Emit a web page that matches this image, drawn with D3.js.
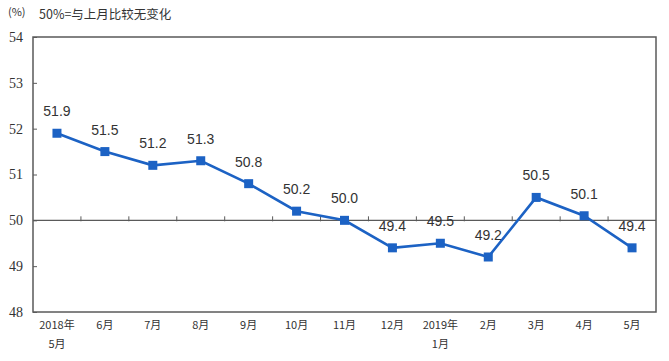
<!DOCTYPE html>
<html><head><meta charset="utf-8">
<script src="https://cdn.jsdelivr.net/npm/d3@7"></script>
<style>body{margin:0;background:#fff}svg{display:block}</style>
</head><body><svg id="c" width="669" height="361"></svg>
<script>
const categories = ["2018年\n5月","6月","7月","8月","9月","10月","11月","12月","2019年\n1月","2月","3月","4月","5月"];
const values = [51.9,51.5,51.2,51.3,50.8,50.2,50.0,49.4,49.5,49.2,50.5,50.1,49.4];
const yTicks = [48,49,50,51,52,53,54];
const unitText = "(%)";
const noteText = "50%=与上月比较无变化";

const svg = d3.select("#c");
const L=33,R=656,T=37,B=312;
const x = d3.scaleBand().domain(d3.range(categories.length)).range([L,R]);
const y = d3.scaleLinear().domain([48,54]).range([B,T]);
const axisColor="#5a5a5a";
const lineColor="#1c62c4";

svg.append("rect").attr("x",L).attr("y",T).attr("width",R-L).attr("height",B-T)
  .attr("fill","none").attr("stroke",axisColor).attr("stroke-width",1.5);

const ya = svg.append("g").attr("transform",`translate(${L},0)`)
  .call(d3.axisLeft(y).tickValues(yTicks).tickSize(-4).tickPadding(10).tickFormat(d3.format("d")));
ya.select(".domain").remove();
ya.selectAll("line").attr("stroke",axisColor);
ya.selectAll("text").attr("font-family","'Liberation Serif',serif").attr("font-size",14).attr("fill","#333").attr("dy","0.32em");

const y50=y(50);
svg.append("line").attr("x1",L).attr("x2",R).attr("y1",y50).attr("y2",y50).attr("stroke",axisColor).attr("stroke-width",1.2);
svg.selectAll(".ct").data(d3.range(1,categories.length)).join("line")
  .attr("x1",i=>x(i)).attr("x2",i=>x(i)).attr("y1",y50+1).attr("y2",y50-4)
  .attr("stroke",axisColor).attr("stroke-width",1);

const xl = svg.selectAll(".xl").data(categories).join("text")
  .attr("x",(d,i)=>x(i)+x.bandwidth()/2).attr("y",329)
  .attr("text-anchor","middle").attr("font-family","'Noto Sans CJK SC',sans-serif")
  .attr("font-size",11).attr("fill","#333");
xl.each(function(d){
  const parts=d.split("\n");
  d3.select(this).selectAll("tspan").data(parts).join("tspan")
    .attr("x",d3.select(this).attr("x")).attr("dy",(p,j)=>j?19:0).text(p=>p);
});

const cx=i=>x(i)+x.bandwidth()/2;
svg.append("path").datum(values)
  .attr("d",d3.line().x((d,i)=>cx(i)).y(d=>y(d)))
  .attr("fill","none").attr("stroke",lineColor).attr("stroke-width",2.6);
svg.selectAll(".m").data(values).join("rect")
  .attr("x",(d,i)=>cx(i)-4.5).attr("y",d=>y(d)-4.5).attr("width",9).attr("height",9)
  .attr("fill",lineColor);

svg.selectAll(".vl").data(values).join("text")
  .attr("x",(d,i)=>cx(i)).attr("y",d=>y(d)-17)
  .attr("text-anchor","middle").attr("font-family","'Liberation Sans',Arial,sans-serif")
  .attr("font-size",14).attr("fill","#333").text(d=>d.toFixed(1));

svg.append("text").attr("x",8).attr("y",16).attr("font-family","'Noto Sans CJK SC',sans-serif")
  .attr("font-size",11).attr("fill","#333").text(unitText);
svg.append("text").attr("x",39).attr("y",19).attr("font-family","'Noto Sans CJK SC',sans-serif")
  .attr("font-size",12.5).attr("fill","#333").text(noteText);
</script></body></html>
